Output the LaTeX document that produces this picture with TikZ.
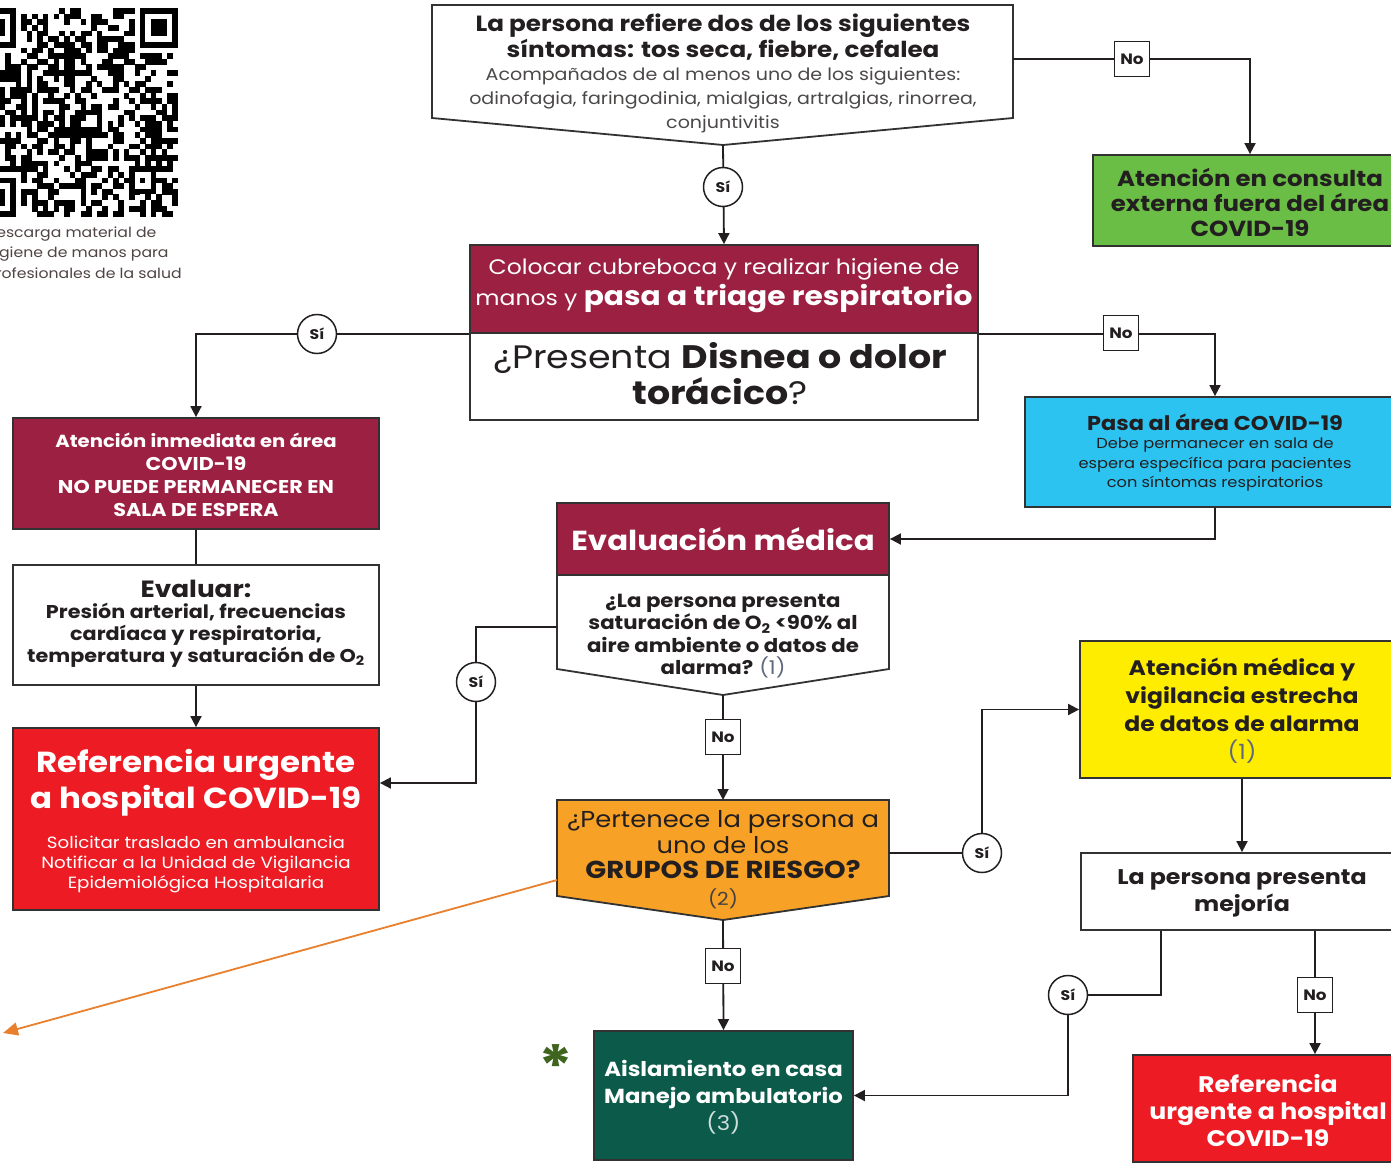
\documentclass[tikz,border=0pt]{standalone}
\usepackage{fontspec}
\setmainfont{Poppins}[FakeStretch=1.12]
\usetikzlibrary{arrows.meta,calc}
\definecolor{cMaroon}{RGB}{155,32,66}
\definecolor{cGreen}{RGB}{106,189,69}
\definecolor{cCyan}{RGB}{44,195,241}
\definecolor{cRed}{RGB}{237,28,36}
\definecolor{cYellow}{RGB}{255,237,0}
\definecolor{cOrange}{RGB}{247,161,38}
\definecolor{cDGreen}{RGB}{12,90,74}
\definecolor{cText}{RGB}{35,31,32}
\definecolor{cGrayT}{RGB}{75,72,72}
\definecolor{cNum}{RGB}{95,105,125}
\definecolor{cArrowO}{RGB}{232,128,46}
\definecolor{cAst}{RGB}{62,100,30}
\definecolor{cBorder}{RGB}{50,50,50}
\definecolor{cCap}{RGB}{80,68,68}
\newcommand\qrfinder[2]{%
  \fill[white] ({-22+#1*5.4-5.4},{8+#2*5.65-5.65}) rectangle ++({9*5.4},{9*5.65});
  \fill[black] ({-22+#1*5.4},{8+#2*5.65}) rectangle ++({7*5.4},{7*5.65});
  \fill[white] ({-22+(#1+1)*5.4},{8+(#2+1)*5.65}) rectangle ++({5*5.4},{5*5.65});
  \fill[black] ({-22+(#1+2)*5.4},{8+(#2+2)*5.65}) rectangle ++({3*5.4},{3*5.65});}
\newcommand\fsz[2]{\fontsize{#1}{#2}\selectfont}
\tikzset{
  bx/.style={draw=cBorder, line width=1.8pt, inner sep=0pt},
  tx/.style={align=center, inner sep=0pt, text=cText},
  arr/.style={line width=1.8pt, draw=cText, -{Triangle[length=11pt,width=11pt]}},
  ln/.style={line width=1.8pt, draw=cText},
  sicirc/.style={circle, draw=cText, line width=1.5pt, fill=white, minimum size=39pt, inner sep=0pt, text=cText, font=\bfseries\fsz{14}{14}},
  nolbl/.style={rectangle, draw=cText, line width=1.5pt, fill=white, minimum width=35pt, minimum height=35pt, inner sep=0pt, text=cText, font=\bfseries\fsz{15}{15}},
}
\begin{document}
\begin{tikzpicture}[x=1pt,y=-1pt]
\useasboundingbox (0,0) rectangle (1391,1164);
\clip (0,0) rectangle (1391,1164);
\fill[white] (0,0) rectangle (1391,1164);
% QR code
\pgfmathsetseed{7}
\foreach \i in {0,...,36}{\foreach \j in {0,...,36}{%
  \pgfmathrandominteger{\rr}{0}{1}%
  \ifnum\rr=1 \fill[black] ({-22+\i*5.4},{8+\j*5.65}) rectangle ++(5.5,5.75);\fi}}
\qrfinder{0}{0}
\qrfinder{30}{0}
\qrfinder{0}{30}
\fill[white] ({-22+28*5.4},{8+28*5.65}) rectangle ++({5*5.4},{5*5.65});
\fill[black] ({-22+28*5.4},{8+28*5.65}) rectangle ++({5*5.4},{5*5.65});
\fill[white] ({-22+29*5.4},{8+29*5.65}) rectangle ++({3*5.4},{3*5.65});
\fill[black] ({-22+30*5.4},{8+30*5.65}) rectangle ++({1*5.4},{1*5.65});
\node[anchor=west, align=left, inner sep=0pt, text=cCap, font=\fsz{14}{20.5}] (qrcap) at (-15,254) {Descarga material de\\higiene de manos para\\profesionales de la salud};

% ---- boxes ----
\draw[bx, fill=white] (432,5) -- (1013,5) -- (1013,118) -- (723,145) -- (432,118) -- cycle;
\coordinate (topP) at (723,145);
\coordinate (topR) at (1013,59);
\node[tx, font=\bfseries\fsz{22}{24}] (topA) at (723,37) {La persona refiere dos de los siguientes\\síntomas: tos seca, fiebre, cefalea};
\node[tx, text=cGrayT, font=\fsz{17}{24}] (topB) at (723,100) {Acompañados de al menos uno de los siguientes:\\odinofagia, faringodinia, mialgias, artralgias, rinorrea,\\conjuntivitis};

\node[bx, fill=cGreen, minimum width=314pt, minimum height=91pt] (green) at (1250,200.5) {};
\node[tx, font=\bfseries\fsz{21.8}{25}] (greenT) at (1250,202) {Atención en consulta\\externa fuera del área\\COVID-19};

\node[bx, fill=cMaroon, minimum width=508pt, minimum height=88pt] (colTop) at (724,289) {};
\node[bx, fill=white, minimum width=508pt, minimum height=87pt] (colBot) at (724,376.5) {};
\node[tx, text=white, font=\fsz{21}{31}] (colA) at (724,286) {Colocar cubreboca y realizar higiene de\\manos y {\bfseries\fsz{26.5}{31}pasa a triage respiratorio}};
\node[tx, font=\fsz{32.5}{36}] (colB) at (720,374) {¿Presenta \textbf{Disnea o dolor}\\\textbf{torácico}?};

\node[bx, fill=cCyan, minimum width=380pt, minimum height=110pt] (pasa) at (1215,452) {};
\node[tx, font=\bfseries\fsz{20}{24}] (pasaA) at (1215,422) {Pasa al área COVID-19};
\node[tx, font=\fsz{14.5}{19.5}] (pasaB) at (1215,465) {Debe permanecer en sala de\\espera específica para pacientes\\con síntomas respiratorios};

\node[bx, fill=cMaroon, minimum width=366pt, minimum height=111pt] (atinm) at (196,473.5) {};
\node[tx, text=white, font=\bfseries\fsz{17.5}{23}] (atinmT) at (196,474.5) {Atención inmediata en área\\{\fsz{18.5}{23}COVID-19}\\{\fsz{18.5}{23}NO PUEDE PERMANECER EN}\\{\fsz{18.5}{23}SALA DE ESPERA}};

\node[bx, fill=white, minimum width=366pt, minimum height=120pt] (evaluar) at (196,625) {};
\node[tx, font=\bfseries\fsz{23.5}{28}] (evaluarA) at (196,589) {Evaluar:};
\node[tx, font=\bfseries\fsz{18.5}{22}] (evaluarB) at (196,635) {Presión arterial, frecuencias\\cardíaca y respiratoria,\\temperatura y saturación de O\textsubscript{2}};

\node[bx, fill=cRed, minimum width=366pt, minimum height=182pt] (ref) at (196,819) {};
\node[tx, text=white, font=\bfseries\fsz{29}{36}] (refA) at (196,783) {Referencia urgente\\a hospital COVID-19};
\node[tx, text=white, font=\fsz{16.3}{20}] (refB) at (196,864) {Solicitar traslado en ambulancia\\Notificar a la Unidad de Vigilancia\\Epidemiológica Hospitalaria};

\node[bx, fill=cMaroon, minimum width=332pt, minimum height=72pt] (evalTop) at (723,539) {};
\node[tx, text=white, font=\bfseries\fsz{27.5}{30}] (evalTopT) at (723,539) {Evaluación médica};
\draw[bx, fill=white] (557,575) -- (889,575) -- (889,669) -- (723,695) -- (557,669) -- cycle;
\coordinate (evalL) at (557,627);
\coordinate (evalP) at (723,695);
\node[tx, font=\bfseries\fsz{19}{22.5}] (evalQ) at (723,636) {¿La persona presenta\\saturación de O\textsubscript{2} <90\% al\\aire ambiente o datos de\\alarma? {\mdseries\color{cNum}(1)}};

\draw[bx, fill=cOrange] (557,800) -- (889,800) -- (889,896) -- (723,920) -- (557,896) -- cycle;
\coordinate (gruN) at (723,800);
\coordinate (gruR) at (889,853);
\coordinate (gruP) at (723,920);
\coordinate (gruL) at (557,880);
\node[tx, font=\fsz{23}{25.5}] (gruT) at (723,845) {¿Pertenece la persona a\\uno de los\\{\bfseries\fsz{24.5}{25.5}GRUPOS DE RIESGO?}};
\node[tx, text=cText!85, font=\fsz{18}{20}] (gruN2) at (723,899) {(2)};

\node[bx, fill=cYellow, minimum width=324pt, minimum height=137pt] (yellow) at (1242,709.5) {};
\node[tx, font=\bfseries\fsz{21}{28}] (yellowT) at (1242,711) {Atención médica y\\vigilancia estrecha\\de datos de alarma\\{\mdseries\color{cNum}(1)}};

\node[bx, fill=white, minimum width=322pt, minimum height=77pt] (mejoria) at (1242,891.5) {};
\node[tx, font=\bfseries\fsz{21.2}{27}] (mejoriaT) at (1242,893.5) {La persona presenta\\mejoría};

\node[bx, fill=cRed, minimum width=270pt, minimum height=107pt] (refS) at (1268,1108.5) {};
\node[tx, text=white, font=\bfseries\fsz{22.5}{27}] (refST) at (1268,1111) {Referencia\\urgente a hospital\\COVID-19};

\node[bx, fill=cDGreen, minimum width=259pt, minimum height=129pt] (aisl) at (723.5,1095.5) {};
\node[tx, text=white, font=\bfseries\fsz{20.3}{27}] (aislT) at (723.5,1097.5) {Aislamiento en casa\\Manejo ambulatorio\\{\mdseries\color{white!80!cDGreen}(3)}};

\node[tx, text=cAst, font=\bfseries\fsz{58}{58}] (ast) at (556,1066) {*};

% ---- connectors ----
\draw[arr] (topP) -- (colTop.north);
\draw[arr] (topR) -| (green.north);
\draw[arr] (colTop.south west) -| (atinm.north);
\draw[arr] (colTop.south east) -| (pasa.north);
\draw[arr] (pasa.south) |- (evalTop.east);
\draw[ln] (atinm.south) -- (evaluar.north);
\draw[arr] (evaluar.south) -- (ref.north);
\coordinate (siEpos) at (476,682);
\draw[arr] (evalL) -| (siEpos) |- ([yshift=36pt]ref.east);
\draw[arr] (evalP) -- (gruN);
\coordinate (siGpos) at (982,853);
\draw[arr] (gruR) -- (siGpos) |- (yellow.west);
\draw[arr] (yellow.south) -- (mejoria.north);
\coordinate (siMpos) at (1068,995);
\draw[arr] ([xshift=-81pt]mejoria.south) |- (siMpos) |- (aisl.east);
\draw[arr] ([xshift=73pt]mejoria.south) -- ([xshift=47pt]refS.north);
\draw[arr] (gruP) -- (aisl.north);
\coordinate (oEnd) at (3,1033);
\draw[line width=1.8pt, draw=cArrowO, -{Triangle[length=15pt,width=13pt]}] (gruL) -- (oEnd);

% ---- labels ----
\node[nolbl] (no1) at (1132,59) {No};
\node[sicirc] (si1) at (723,187) {Sí};
\node[sicirc] (si2) at (317,334) {Sí};
\node[nolbl] (no2) at (1121,333) {No};
\node[sicirc] (si3) at (siEpos) {Sí};
\node[nolbl] (no3) at (723,737) {No};
\node[sicirc] (si4) at (siGpos) {Sí};
\node[nolbl] (no4) at (723,966) {No};
\node[sicirc] (si5) at (siMpos) {Sí};
\node[nolbl] (no5) at (1315,995) {No};
\end{tikzpicture}
\end{document}
